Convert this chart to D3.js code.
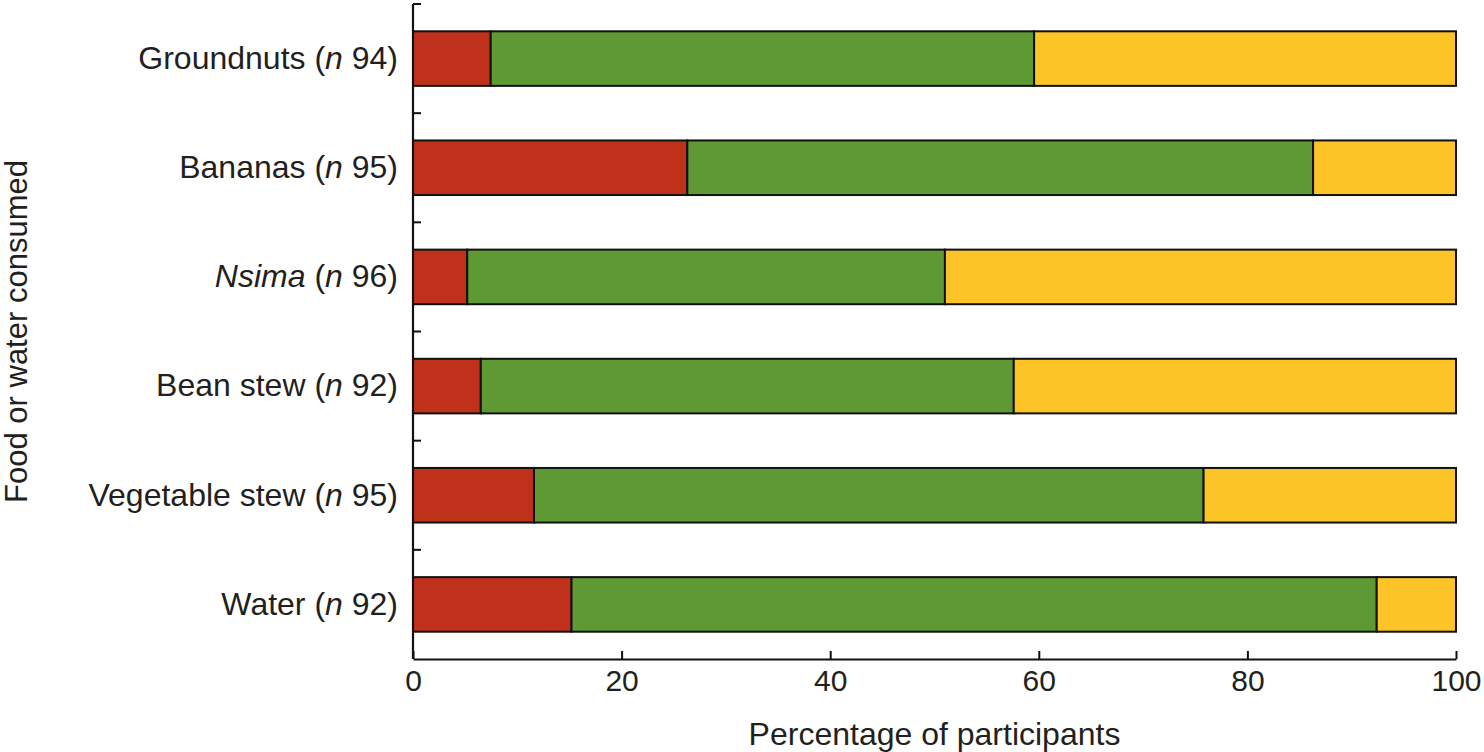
<!DOCTYPE html>
<html>
<head>
<meta charset="utf-8">
<script src="https://cdn.jsdelivr.net/npm/d3@7"></script>
<style>
  html, body { margin: 0; padding: 0; background: #fff; }
  svg text { font-family: "Liberation Sans", Arial, Helvetica, sans-serif; fill: #231f20; }
</style>
</head>
<body>
<svg id="chart" width="1484" height="752"></svg>
<script>
// Categories (top to bottom)
const categories = ["Groundnuts", "Bananas", "Nsima", "Bean stew", "Vegetable stew", "Water"];
const sampleSizes = [94, 95, 96, 92, 95, 92];
const italicNames = ["Nsima"];
// Series values (percentage of participants)
const seriesNames = ["red", "green", "yellow"];
const redValues    = [7.45, 26.3, 5.2, 6.5, 11.6, 15.2];
const greenValues  = [52.1, 60.0, 45.8, 51.1, 64.2, 77.2];
const yellowValues = [40.45, 13.7, 49.0, 42.4, 24.2, 7.6];
const xTicks = [0, 20, 40, 60, 80, 100];
const colors = ["#bf311b", "#5e9934", "#fdc427"];

const svg = d3.select("#chart");
const margin = {top: 4, right: 28, bottom: 93, left: 413};
const W = 1484, H = 752;
const x = d3.scaleLinear().domain([0, 100]).range([margin.left, W - margin.right]);
const y = d3.scaleBand().domain(categories).range([margin.top, H - margin.bottom])
  .paddingInner(0.5).paddingOuter(0.25);

const table = categories.map((c, i) => ({cat: c, red: redValues[i], green: greenValues[i], yellow: yellowValues[i]}));
const stack = d3.stack().keys(seriesNames)(table);

// Bars
svg.append("g").selectAll("g").data(stack).join("g")
  .attr("fill", (d, i) => colors[i])
  .selectAll("rect").data(d => d).join("rect")
  .attr("x", d => x(d[0]))
  .attr("width", d => x(Math.min(d[1], 100)) - x(d[0]))
  .attr("y", d => y(d.data.cat))
  .attr("height", y.bandwidth())
  .attr("stroke", "#111")
  .attr("stroke-width", 2);

// X axis
const xAxis = svg.append("g")
  .attr("transform", `translate(0,${H - margin.bottom})`)
  .call(d3.axisBottom(x).tickValues(xTicks).tickFormat(d3.format("d")).tickSizeInner(-8).tickSizeOuter(0).tickPadding(11));
xAxis.select(".domain").attr("stroke", "#111").attr("stroke-width", 2.2);
xAxis.selectAll(".tick line").attr("stroke", "#111").attr("stroke-width", 2);
xAxis.selectAll(".tick text").attr("font-size", 30).attr("y", 11);

// Y axis (labels)
const yAxis = svg.append("g")
  .attr("transform", `translate(${margin.left},0)`)
  .call(d3.axisLeft(y).tickSize(0).tickPadding(15));
yAxis.select(".domain").attr("stroke", "#111").attr("stroke-width", 2.2)
  .attr("d", `M0,${margin.top}V${H - margin.bottom}`);
yAxis.selectAll(".tick text").each(function(d, i) {
  const t = d3.select(this).text(null).attr("font-size", 32);
  const it = italicNames.includes(d);
  t.append("tspan").attr("font-style", it ? "italic" : "normal").text(d);
  t.append("tspan").text(" (");
  t.append("tspan").attr("font-style", "italic").text("n");
  t.append("tspan").text(" " + sampleSizes[i] + ")");
});

// Y inward ticks at band boundaries
const gap = (y.step() - y.bandwidth()) / 2;
svg.append("g").selectAll("line").data(categories).join("line")
  .attr("x1", margin.left).attr("x2", margin.left + 8)
  .attr("y1", d => y(d) - gap).attr("y2", d => y(d) - gap)
  .attr("stroke", "#111").attr("stroke-width", 2);

// Axis titles
svg.append("text")
  .attr("x", (x(0) + x(100)) / 2).attr("y", 745)
  .attr("text-anchor", "middle").attr("font-size", 32)
  .text("Percentage of participants");
svg.append("text")
  .attr("transform", `translate(27,${(margin.top + H - margin.bottom) / 2}) rotate(-90)`)
  .attr("text-anchor", "middle").attr("font-size", 31)
  .text("Food or water consumed");
</script>
</body>
</html>
